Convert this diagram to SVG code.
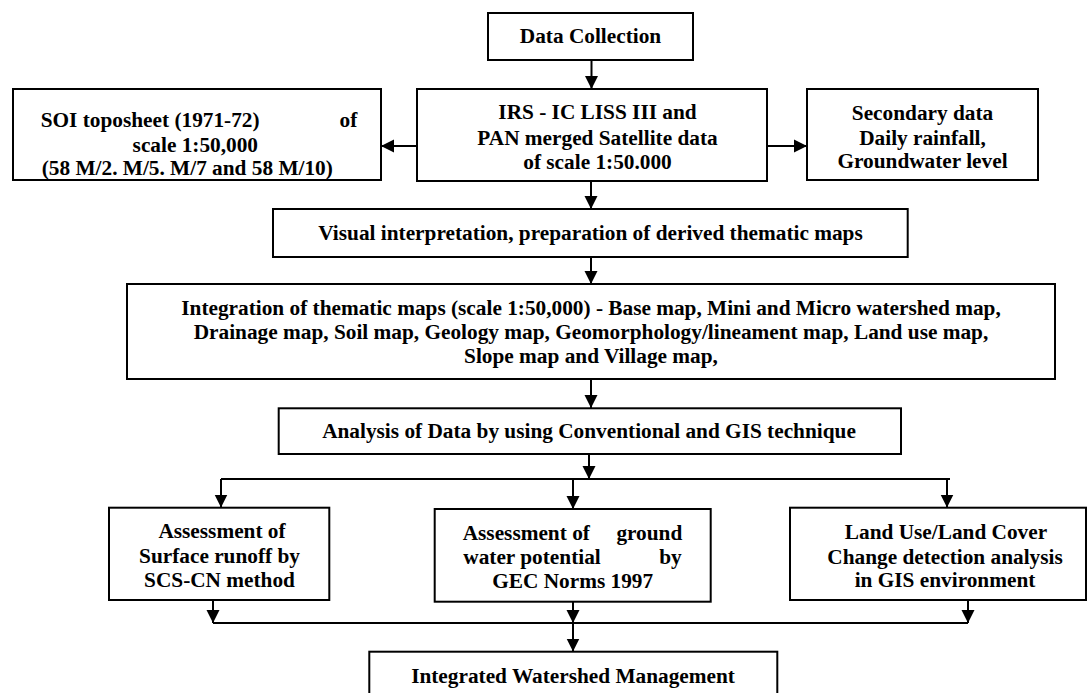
<svg xmlns="http://www.w3.org/2000/svg" width="1088" height="693" viewBox="0 0 1088 693">
<style>
.box{fill:#fff;stroke:#000;stroke-width:2}
.t{font-family:"Liberation Serif","Times New Roman",serif;font-weight:bold;font-size:21.3px;fill:#000}
.m{text-anchor:middle}
.e{text-anchor:end}
.c{fill:none;stroke:#000;stroke-width:2}
</style>
<defs>
<marker id="ah" viewBox="0 0 12 12" refX="12" refY="6" markerWidth="13" markerHeight="14" markerUnits="userSpaceOnUse" orient="auto">
<path d="M0,0 L12,6 L0,12 z" fill="#000"/>
</marker>
</defs>
<rect width="1088" height="693" fill="#fff"/>
<g id="connectors">
<line class="c" x1="591.5" y1="60" x2="591.5" y2="89" marker-end="url(#ah)"/>
<line class="c" x1="417" y1="146" x2="381" y2="146" marker-end="url(#ah)"/>
<line class="c" x1="767" y1="146" x2="807" y2="146" marker-end="url(#ah)"/>
<line class="c" x1="591" y1="181" x2="591" y2="209" marker-end="url(#ah)"/>
<line class="c" x1="591" y1="257" x2="591" y2="284" marker-end="url(#ah)"/>
<line class="c" x1="591" y1="379" x2="591" y2="408" marker-end="url(#ah)"/>
<line class="c" x1="589" y1="454" x2="589" y2="479" marker-end="url(#ah)"/>
<line class="c" x1="221" y1="479" x2="950" y2="479"/>
<line class="c" x1="221" y1="479" x2="221" y2="507.5" marker-end="url(#ah)"/>
<line class="c" x1="573" y1="479" x2="573" y2="509" marker-end="url(#ah)"/>
<line class="c" x1="947" y1="479" x2="947" y2="507.5" marker-end="url(#ah)"/>
<line class="c" x1="213" y1="600" x2="213" y2="623" marker-end="url(#ah)"/>
<line class="c" x1="573" y1="601.5" x2="573" y2="623" marker-end="url(#ah)"/>
<line class="c" x1="968" y1="600" x2="968" y2="623" marker-end="url(#ah)"/>
<line class="c" x1="213" y1="623" x2="968" y2="623"/>
<line class="c" x1="573" y1="623" x2="573" y2="651.5" marker-end="url(#ah)"/>
</g>
<g id="data-collection">
<rect class="box" x="488" y="13" width="205" height="47"/>
<text class="t m" x="590.5" y="43">Data Collection</text>
</g>
<g id="irs">
<rect class="box" x="417" y="89" width="350" height="92"/>
<text class="t m" x="597.5" y="119">IRS - IC LISS III and</text>
<text class="t m" x="597.5" y="145">PAN merged Satellite data</text>
<text class="t m" x="597.5" y="169">of scale 1:50.000</text>
</g>
<g id="soi">
<rect class="box" x="13" y="89" width="368" height="91"/>
<text class="t" x="40.7" y="127">SOI toposheet (1971-72)</text>
<text class="t e" x="357.3" y="127">of</text>
<text class="t m" x="195.3" y="152">scale 1:50,000</text>
<text class="t m" x="187.3" y="175">(58 M/2. M/5. M/7 and 58 M/10)</text>
</g>
<g id="secondary">
<rect class="box" x="807" y="89" width="231" height="91"/>
<text class="t m" x="922.5" y="120">Secondary data</text>
<text class="t m" x="922.5" y="145">Daily rainfall,</text>
<text class="t m" x="922.5" y="168">Groundwater level</text>
</g>
<g id="visual">
<rect class="box" x="273" y="209" width="634.7" height="48"/>
<text class="t m" x="590.5" y="240">Visual interpretation, preparation of derived thematic maps</text>
</g>
<g id="integration">
<rect class="box" x="127" y="284" width="928" height="95"/>
<text class="t m" x="591" y="315">Integration of thematic maps (scale 1:50,000) - Base map, Mini and Micro watershed map,</text>
<text class="t m" x="591" y="339">Drainage map, Soil map, Geology map, Geomorphology/lineament map, Land use map,</text>
<text class="t m" x="591" y="363">Slope map and Village map,</text>
</g>
<g id="analysis">
<rect class="box" x="278.7" y="408.3" width="622.3" height="45.7"/>
<text class="t m" x="589" y="438">Analysis of Data by using Conventional and GIS technique</text>
</g>
<g id="runoff">
<rect class="box" x="109" y="507.7" width="220.3" height="92.3"/>
<text class="t m" x="222" y="538">Assessment of</text>
<text class="t m" x="219.5" y="563">Surface runoff by</text>
<text class="t m" x="219.5" y="587">SCS-CN method</text>
</g>
<g id="groundwater">
<rect class="box" x="434.7" y="509" width="276" height="92.7"/>
<text class="t" x="462.7" y="540">Assessment of</text>
<text class="t e" x="682.3" y="540">ground</text>
<text class="t" x="463.3" y="564">water potential</text>
<text class="t e" x="681.7" y="564">by</text>
<text class="t m" x="572.7" y="588">GEC Norms 1997</text>
</g>
<g id="landuse">
<rect class="box" x="790" y="507.7" width="296" height="92.3"/>
<text class="t m" x="946" y="539">Land Use/Land Cover</text>
<text class="t m" x="945" y="564">Change detection analysis</text>
<text class="t m" x="945" y="587">in GIS environment</text>
</g>
<g id="integrated">
<rect class="box" x="369.3" y="651.7" width="408" height="60"/>
<text class="t m" x="573" y="683">Integrated Watershed Management</text>
</g>
</svg>
